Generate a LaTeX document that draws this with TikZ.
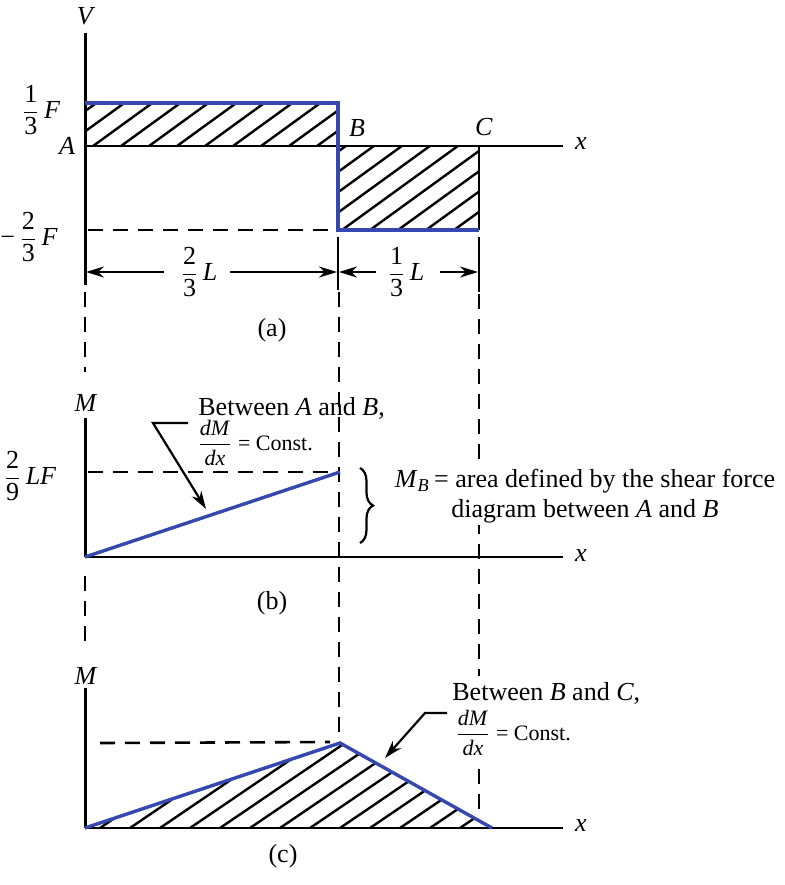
\documentclass[tikz,border=0pt]{standalone}
\usepackage{fontspec}
\setmainfont{Liberation Serif}
\usepackage{amsmath}
\usetikzlibrary{arrows.meta,decorations.pathreplacing}
\definecolor{curveblue}{RGB}{52,72,176}
\newcommand{\fr}[2]{\ensuremath{\genfrac{}{}{0.5pt}{0}{\text{#1}}{\text{#2}}}}
\newcommand{\ii}[1]{\textit{#1}}
\begin{document}
\begin{tikzpicture}[x=0.5pt,y=-0.5pt,
  font=\fontsize{13}{15}\selectfont,
  axis/.style={line width=1.5pt},
  xaxis/.style={line width=1.1pt},
  curve/.style={curveblue,line width=1.7pt,line join=miter},
  dsh/.style={line width=1.3pt,dash pattern=on 7.5pt off 5pt},
  hatchline/.style={line width=1.2pt},
  arr/.style={line width=1.1pt,-{Stealth[length=9pt,width=5.5pt]}},
  lbl/.style={inner sep=0pt},
  bgtext/.style={fill=white,inner sep=3pt},
  small/.style={font=\fontsize{11}{13}\selectfont}]
\useasboundingbox (0,0) rectangle (785,885);

% ---------- panel (a) ----------
\coordinate (Vtop) at (85,33);
\coordinate (Vbot) at (85,285);
\coordinate (A0) at (85,146);
\coordinate (Aend) at (563,146);
\coordinate (P1) at (85,103);
\coordinate (P2) at (338,103);
\coordinate (P3) at (338,230);
\coordinate (P4) at (479,230);
\coordinate (Cx) at (479,146);
\coordinate (D1) at (88,230);
\coordinate (D2) at (334,230);

\begin{scope}
  \clip (P1) rectangle (338,146);
  \foreach \k in {-3,...,10} \draw[hatchline] ({93+28*\k},146) -- ++(120,-87);
\end{scope}
\begin{scope}
  \clip (338,146) rectangle (P4);
  \foreach \k in {-5,...,6} \draw[hatchline] ({342+28*\k},230) -- ++(200,-145);
\end{scope}

\draw[axis] (Vtop) -- (Vbot);
\draw[xaxis] (A0) -- (Aend);
\draw[xaxis] (Cx) -- (P4);
\draw[dsh] (D1) -- (D2);
\draw[curve] (P1) -- (P2) -- (P3) -- (P4);

\node[lbl] (V) at (86,16) {\ii{V}};
\node[lbl] (xa) at (581,144) {\ii{x}};
\node[lbl] (A) at (67,146) {\ii{A}};
\node[lbl] (B) at (357,128) {\ii{B}};
\node[lbl] (C) at (484,127) {\ii{C}};
\node[lbl] (f13) at (41,110) {\fr{1}{3}\,\ii{F}};
\node[lbl] (f23) at (29,237) {−\,\fr{2}{3}\,\ii{F}};

% dimension lines
\coordinate (TB1) at (338,237);
\coordinate (TB2) at (338,290);
\coordinate (TC1) at (479,237);
\coordinate (TC2) at (479,292);
\draw[xaxis] (TB1) -- (TB2);
\draw[xaxis] (TC1) -- (TC2);
\node[lbl] (L23) at (199,272) {\fr{2}{3}\,\ii{L}};
\node[lbl] (L13) at (406,272) {\fr{1}{3}\,\ii{L}};
\coordinate (dA) at (86,272);
\coordinate (dB1) at (337,272);
\coordinate (dB2) at (339,272);
\coordinate (dC) at (478,272);
\coordinate (t1) at (164,272);
\coordinate (t2) at (230,272);
\coordinate (t3) at (376,272);
\coordinate (t4) at (440,272);
\draw[arr] (t1) -- (dA);
\draw[arr] (t2) -- (dB1);
\draw[arr] (t3) -- (dB2);
\draw[arr] (t4) -- (dC);
\node[lbl] (capa) at (272,330) {(a)};

% dashed projection lines
\coordinate (v1a) at (85,292);
\coordinate (v1b) at (85,372);
\coordinate (v1c) at (85,576);
\coordinate (v1d) at (85,648);
\coordinate (v2a) at (339,292);
\coordinate (v2b) at (339,743);
\coordinate (v3a) at (479,294);
\coordinate (v3b) at (479,818);
\draw[dsh] (v1a) -- (v1b);
\draw[dsh] (v1c) -- (v1d);
\draw[dsh] (v2a) -- (v2b);
\draw[dsh] (v3a) -- (v3b);

% ---------- panel (b) ----------
\coordinate (Mtop) at (85,418);
\coordinate (O2) at (85,557);
\coordinate (O2end) at (563,557);
\coordinate (MBpt) at (340,472);
\coordinate (E1) at (88,472);
\coordinate (E2) at (334,472);
\draw[axis] (Mtop) -- (O2);
\draw[xaxis] (O2) -- (O2end);
\draw[dsh] (E1) -- (E2);
\draw[curve] (O2) -- (MBpt);
\node[lbl] (Mb) at (86,403) {\ii{M}};
\node[lbl] (xb) at (581,556) {\ii{x}};
\node[lbl] (f29) at (30,476) {\fr{2}{9}\,\ii{LF}};
\coordinate (br1) at (360,468);
\coordinate (br2) at (360,543);
\draw[line width=1.1pt,decorate,decoration={brace,amplitude=6.5pt}] (br1) -- (br2);
\node[fill=white,inner sep=1pt,align=center,anchor=north] (MBtxt) at (585,467) {\ii{M}\textsubscript{\ii{B}}\,= area defined by the shear force\\diagram between \ii{A} and \ii{B}};
\node[lbl,anchor=west] (tAB) at (198,408) {Between \ii{A} and \ii{B},};
\node[lbl,anchor=west,small] (tAB2) at (197,443) {\fr{\ii{dM}}{\ii{dx}} = Const.};
\coordinate (k1) at (188,423);
\coordinate (k2) at (153,423);
\coordinate (k3) at (206,509);
\draw[arr] (k1) -- (k2) -- (k3);
\node[lbl] (capb) at (272,603) {(b)};

% ---------- panel (c) ----------
\coordinate (Mtop3) at (85,688);
\coordinate (O3) at (85,828);
\coordinate (O3end) at (563,828);
\coordinate (peak) at (340,743);
\coordinate (Cend) at (492,828);
\coordinate (G1) at (100,743);
\coordinate (G2) at (330,742);
\begin{scope}
  \clip (O3) -- (peak) -- (Cend) -- cycle;
  \foreach \k in {-1,...,14} \draw[hatchline] ({100+30*\k},828) -- ++(200,-136);
\end{scope}
\draw[axis] (Mtop3) -- (O3);
\draw[xaxis] (O3) -- (O3end);
\draw[dsh] (G1) -- (G2);
\draw[curve] (O3) -- (peak) -- (Cend);
\node[lbl] (Mc) at (86,676) {\ii{M}};
\node[lbl] (xc) at (581,826) {\ii{x}};
\node[bgtext,anchor=west] (tBC) at (446,693) {Between \ii{B} and \ii{C},};
\node[bgtext,anchor=west,small] (tBC2) at (449,733) {\fr{\ii{dM}}{\ii{dx}} = Const.};
\coordinate (m1) at (447,713);
\coordinate (m2) at (425,713);
\coordinate (m3) at (385,758);
\draw[arr] (m1) -- (m2) -- (m3);
\node[lbl] (capc) at (283,856) {(c)};
\end{tikzpicture}
\end{document}
